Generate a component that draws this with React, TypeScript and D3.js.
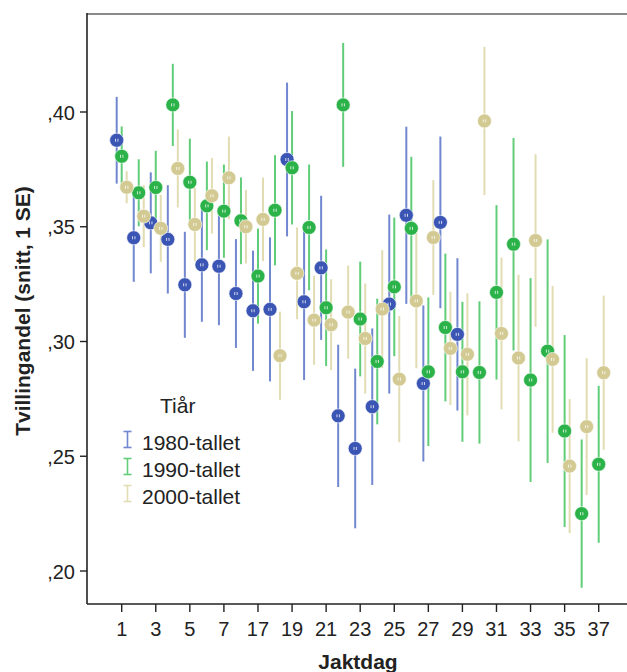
import React from "react";
import * as d3 from "d3";

const categories = ["1","2","3","4","5","6","7","8","17","18","19","20","21","22","23","24","25","26","27","28","29","30","31","32","33","34","35","36","37"];
const tickLabels = ["1","3","5","7","17","19","21","23","25","27","29","31","33","35","37"];
const yTicks = [0.20, 0.25, 0.30, 0.35, 0.40];
const seriesNames = ["1980-tallet", "1990-tallet", "2000-tallet"];

// means and standard errors per category (null = no data)
const mean1980 = [0.3877,0.3452,0.3517,0.3445,0.3247,0.3334,0.3328,0.3209,0.3134,0.3140,0.3793,0.3173,0.3321,0.2676,0.2534,0.2716,0.3163,0.3550,0.2817,0.3519,0.3031,null,null,null,null,null,null,null,null];
const se1980 = [0.0189,0.0192,0.0220,0.0236,0.0231,0.0248,0.0257,0.0237,0.0262,0.0314,0.0335,0.0341,0.0314,0.0310,0.0348,0.0341,0.0390,0.0386,0.0340,0.0374,0.0332,null,null,null,null,null,null,null,null];
const mean1990 = [0.3807,0.3648,0.3671,0.4031,0.3694,0.3591,0.3568,0.3526,0.3285,0.3572,0.3757,0.3497,0.3147,0.4031,0.3098,0.2913,0.3238,0.3493,0.2868,0.3061,0.2868,0.2865,0.3214,0.3424,0.2832,0.2958,0.2610,0.2250,0.2465];
const se1990 = [0.0130,0.0146,0.0160,0.0179,0.0190,0.0193,0.0203,0.0189,0.0207,0.0240,0.0247,0.0274,0.0254,0.0270,0.0250,0.0274,0.0302,0.0312,0.0324,0.0322,0.0305,0.0310,0.0380,0.0463,0.0444,0.0487,0.0418,0.0323,0.0342];
const mean2000 = [0.3672,0.3546,0.3493,0.3754,0.3510,0.3635,0.3713,0.3500,0.3532,0.2938,0.3297,0.3093,0.3073,0.3128,0.3013,0.3141,0.2836,0.3177,0.3453,0.2970,0.2944,0.3961,0.3035,0.2928,0.3440,0.2922,0.2457,0.2629,0.2864];
const se2000 = [0.0070,0.0135,0.0146,0.0170,0.0160,0.0165,0.0180,0.0160,0.0182,0.0192,0.0200,0.0194,0.0198,0.0203,0.0240,0.0257,0.0275,0.0294,0.0250,0.0247,0.0266,0.0323,0.0331,0.0363,0.0376,0.0320,0.0292,0.0298,0.0336];

const pointColors = ["#3a55b4", "#2bb34a", "#d3ca93"];
const barColors = ["#7187cf", "#62cd78", "#e2dcb3"];
const offsets = [-5, 0, 5];

export default function App() {
  const W = 627, H = 672;
  const left = 87, top = 14, bottom = 604, right = 640;
  const x = d3.scalePoint<string>().domain(categories).range([121.7, 598.7]);
  const y = d3.scaleLinear().domain([0.2, 0.4]).range([571, 112]);
  const series = [
    { m: mean1980, s: se1980 },
    { m: mean1990, s: se1990 },
    { m: mean2000, s: se2000 },
  ];
  const font = "'Liberation Sans', Arial, sans-serif";
  return (
    <svg width={W} height={H} style={{ position: "absolute", left: 0, top: 0, background: "#fff" }} fontFamily={font}>
      <rect x={0} y={0} width={W} height={H} fill="#fff" />
      {/* frame */}
      <line x1={left} x2={right} y1={top} y2={top} stroke="#8a8a8a" strokeWidth={2.2} />
      {/* error bars */}
      {[2, 1, 0].map((si) =>
        categories.map((c, i) => {
          const m = series[si].m[i];
          const s = series[si].s[i];
          if (m == null || s == null) return null;
          const cx = (x(c) as number) + offsets[si];
          return (
            <line key={`b${si}-${i}`} x1={cx} x2={cx} y1={y(m - s)} y2={y(m + s)} stroke={barColors[si]} strokeWidth={2} />
          );
        })
      )}
      {/* points */}
      {[0, 1, 2].map((si) =>
        categories.map((c, i) => {
          const m = series[si].m[i];
          if (m == null) return null;
          const cx = (x(c) as number) + offsets[si];
          const cy = y(m);
          return (
            <g key={`p${si}-${i}`}>
              <circle cx={cx} cy={cy} r={7} fill={pointColors[si]} stroke="#fff" strokeWidth={0.6} />
              <line x1={cx - 1.2} x2={cx - 1.2} y1={cy - 1.5} y2={cy + 1.5} stroke="#fff" strokeWidth={0.9} opacity={0.85} />
              <line x1={cx + 1.2} x2={cx + 1.2} y1={cy - 1.5} y2={cy + 1.5} stroke="#fff" strokeWidth={0.9} opacity={0.85} />
            </g>
          );
        })
      )}
      {/* axes */}
      <line x1={left} x2={left} y1={top - 1} y2={bottom} stroke="#222" strokeWidth={1.6} />
      <line x1={left} x2={right} y1={bottom} y2={bottom} stroke="#222" strokeWidth={1.6} />
      {yTicks.map((t) => (
        <g key={`yt${t}`}>
          <line x1={left - 7} x2={left} y1={y(t)} y2={y(t)} stroke="#222" strokeWidth={1.4} />
          <text x={75} y={y(t) + 7.5} textAnchor="end" fontSize={20} fill="#222">
            {"," + d3.format(".2f")(t).split(".")[1]}
          </text>
        </g>
      ))}
      {tickLabels.map((t) => (
        <g key={`xt${t}`}>
          <line x1={x(t) as number} x2={x(t) as number} y1={bottom} y2={bottom + 8} stroke="#222" strokeWidth={1.4} />
          <text x={x(t) as number} y={636} textAnchor="middle" fontSize={20} fill="#222">{t}</text>
        </g>
      ))}
      <text x={358} y={669} textAnchor="middle" fontSize={21} fontWeight="bold" fill="#222">Jaktdag</text>
      <text transform="translate(30,311) rotate(-90)" textAnchor="middle" fontSize={21} fontWeight="bold" fill="#222">
        Tvillingandel (snitt, 1 SE)
      </text>
      {/* legend */}
      <text x={160} y={413} fontSize={21} fill="#222">Tiår</text>
      {seriesNames.map((n, i) => {
        const base = 450 + i * 27;
        const cy = base - 10.5;
        return (
          <g key={n}>
            <line x1={127.5} x2={127.5} y1={cy - 8} y2={cy + 8} stroke={barColors[i]} strokeWidth={1.6} />
            <line x1={123.5} x2={131.5} y1={cy - 8} y2={cy - 8} stroke={barColors[i]} strokeWidth={1.6} />
            <line x1={123.5} x2={131.5} y1={cy + 8} y2={cy + 8} stroke={barColors[i]} strokeWidth={1.6} />
            <text x={142} y={base} fontSize={21} fill="#222">{n}</text>
          </g>
        );
      })}
    </svg>
  );
}
